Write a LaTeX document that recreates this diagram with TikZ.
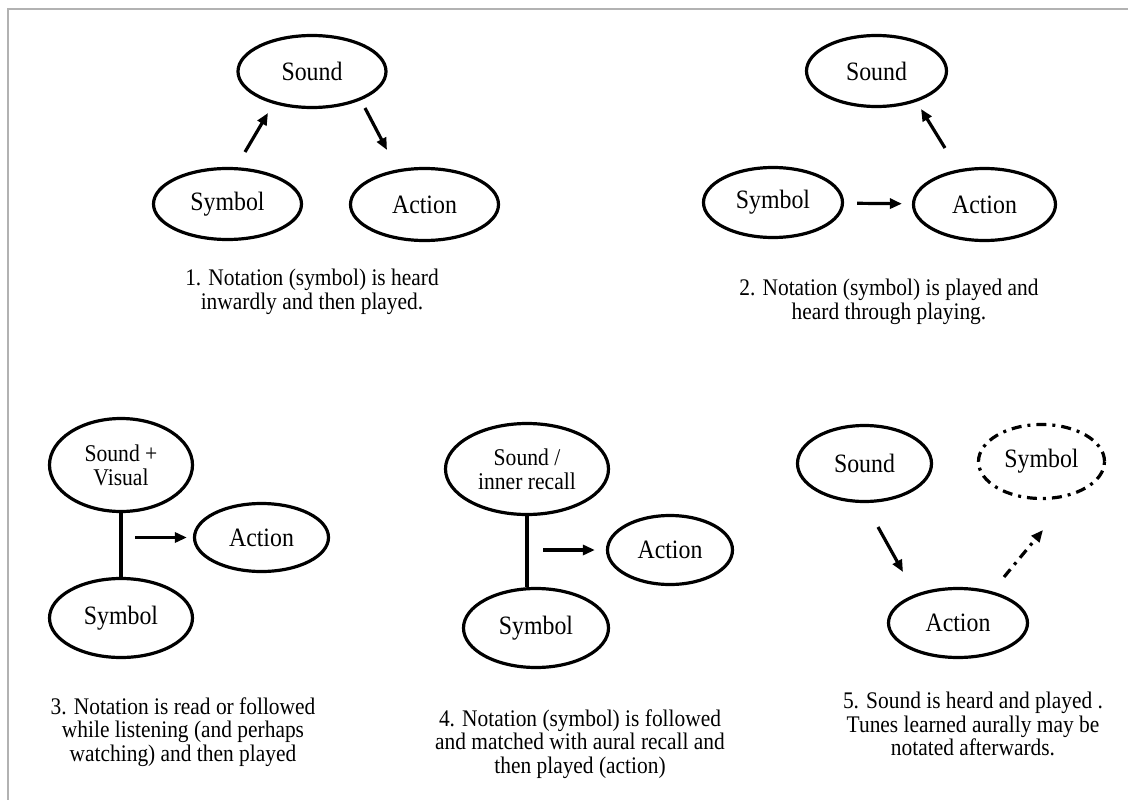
\documentclass[tikz,border=0pt]{standalone}
\usepackage{fontspec}
\setmainfont{Liberation Serif}[FakeStretch=0.9]
\usetikzlibrary{shapes.geometric,arrows.meta}
\tikzset{
	bubble/.style={draw, ellipse, line width=3.2pt, inner sep=0pt, font=\fontsize{26.5}{28}\selectfont},
	bubbletwo/.style={bubble, align=center, font=\fontsize{24}{24}\selectfont},
	arr/.style={-{Triangle[length=12pt,width=10pt]}, line width=3.2pt},
	note/.style={align=center, font=\fontsize{23.8}{23.5}\selectfont},
	chainline/.style={dash pattern=on 10pt off 6pt on 3pt off 6pt},
}
\begin{document}
\begin{tikzpicture}[x=1pt,y=-1pt]
	\useasboundingbox (0,0) rectangle (1128,800);
	\draw[gray!60, line width=2pt] (1128,9) -- (8,9) -- (8,800);
	% 1
	\node[bubble, minimum width=148pt, minimum height=72pt] (snd1) at (312,71.5) {Sound};
	\node[bubble, minimum width=148pt, minimum height=71pt] (sym1) at (227.5,204) {Symbol};
	\node[bubble, minimum width=148pt, minimum height=72pt] (act1) at (424.5,204.5) {Action};
	\coordinate (a1) at (245,152) ;
	\coordinate (b1) at (268,113) ;
	\coordinate (c1) at (365,108) ;
	\coordinate (d1) at (387,150) ;
	\draw[arr] (a1) -- (b1);
	\draw[arr] (c1) -- (d1);
	\node[note] (cap1) at (312,292) {1. Notation (symbol) is heard\\inwardly and then played.};
	% 2
	\node[bubble, minimum width=140pt, minimum height=71pt] (snd2) at (876.5,71) {Sound};
	\node[bubble, minimum width=139pt, minimum height=70pt] (sym2) at (773,202.5) {Symbol};
	\node[bubble, minimum width=142pt, minimum height=72pt] (act2) at (984.5,204.5) {Action};
	\coordinate (a2) at (945,148) ;
	\coordinate (b2) at (921,109) ;
	\draw[arr, shorten <=13pt, shorten >=10pt] (sym2) -- (act2);
	\draw[arr] (a2) -- (b2);
	\node[note] (cap2) at (889,302) {2. Notation (symbol) is played and\\heard through playing.};
	% 3
	\node[bubbletwo, minimum width=143pt, minimum height=93pt] (sv3) at (121,465) {Sound +\\Visual};
	\node[bubble, minimum width=143pt, minimum height=79pt] (sym3) at (121,618) {Symbol};
	\node[bubble, minimum width=134pt, minimum height=68pt] (act3) at (261.5,537.5) {Action};
	\coordinate (a3) at (135,537.5) ;
	\draw[line width=3.2pt] (sv3) -- (sym3);
	\draw[arr, shorten >=6pt] (a3) -- (act3);
	\node[note] (cap3) at (183,732) {3. Notation is read or followed\\while listening (and perhaps\\watching) and then played};
	% 4
	\node[bubbletwo, minimum width=163pt, minimum height=91pt] (sr4) at (527,469) {Sound /\\inner recall};
	\node[bubble, minimum width=145pt, minimum height=79pt] (sym4) at (536,628) {Symbol};
	\node[bubble, minimum width=125pt, minimum height=69pt] (act4) at (670,550) {Action};
	\coordinate (a4) at (543,550) ;
	\draw[line width=3.2pt] (sr4.south) -- (sr4.south |- sym4.north);
	\draw[arr, shorten >=11pt] (a4) -- (act4);
	\node[note] (cap4) at (580,744) {4. Notation (symbol) is followed\\and matched with aural recall and\\then played (action)};
	% 5
	\node[bubble, minimum width=134pt, minimum height=76pt] (snd5) at (864.5,463.5) {Sound};
	\node[bubble, chainline, minimum width=126pt, minimum height=74pt] (sym5) at (1041.5,461.5) {Symbol};
	\node[bubble, minimum width=139pt, minimum height=69pt] (act5) at (958,623) {Action};
	\coordinate (a5) at (878,527) ;
	\coordinate (b5) at (903,572) ;
	\coordinate (c5) at (1004,577) ;
	\coordinate (d5) at (1043,530) ;
	\draw[arr] (a5) -- (b5);
	\draw[arr, chainline] (c5) -- (d5);
	\node[note] (cap5) at (973,724) {5. Sound is heard and played .\\Tunes learned aurally may be\\notated afterwards.};
\end{tikzpicture}
\end{document}
